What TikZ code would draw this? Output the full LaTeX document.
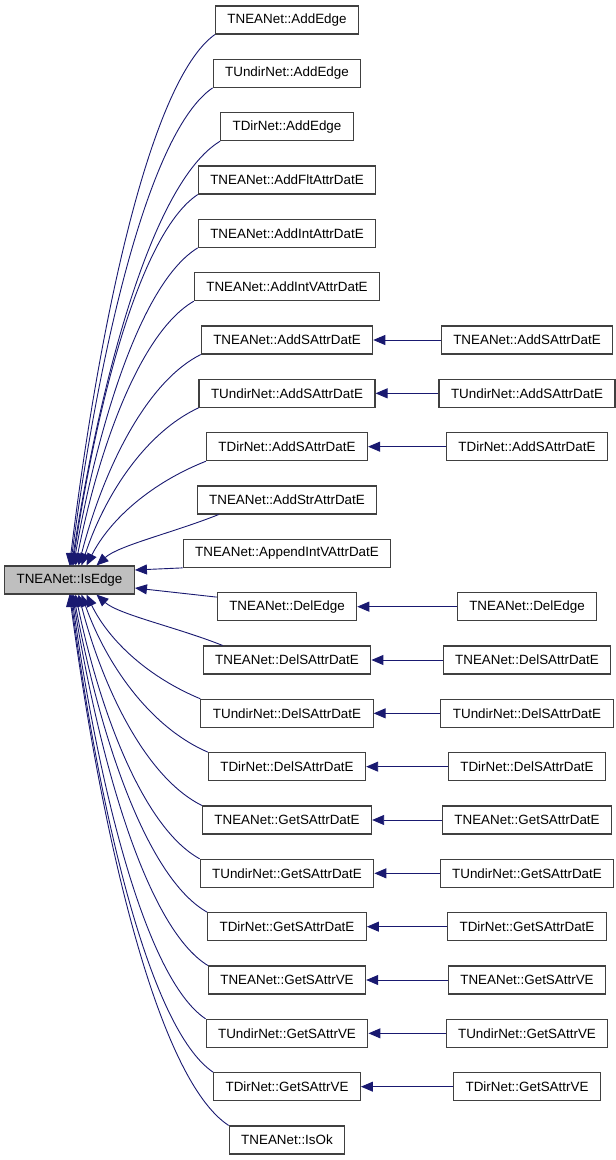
\documentclass[tikz,border=0pt]{standalone}
\usepackage{fontspec}
\setmainfont{Liberation Sans}
\usetikzlibrary{arrows.meta,calc}
\definecolor{edgec}{HTML}{191970}
\definecolor{boxc}{HTML}{404040}
\definecolor{rootgray}{HTML}{BFBFBF}
\begin{document}
\begin{tikzpicture}[x=1pt,y=1pt,
  box/.style={draw=boxc,line width=1.1pt,fill=white,minimum height=28pt,inner xsep=12pt,inner ysep=0pt,font=\fontsize{13.4}{15}\selectfont},
  rootbox/.style={box,fill=rootgray},
  edge/.style={draw=edgec,line width=0.9pt,-{Triangle[length=12pt,width=10pt]}}]
\useasboundingbox (0,0) rectangle (616,-1160);
\node[rootbox] (root) at (69.5,-580) {TNEANet::IsEdge};
\foreach \i/\t in {0/TNEANet::AddEdge,1/TUndirNet::AddEdge,2/TDirNet::AddEdge,3/TNEANet::AddFltAttrDatE,4/TNEANet::AddIntAttrDatE,5/TNEANet::AddIntVAttrDatE,6/TNEANet::AddSAttrDatE,7/TUndirNet::AddSAttrDatE,8/TDirNet::AddSAttrDatE,9/TNEANet::AddStrAttrDatE,10/TNEANet::AppendIntVAttrDatE,11/TNEANet::DelEdge,12/TNEANet::DelSAttrDatE,13/TUndirNet::DelSAttrDatE,14/TDirNet::DelSAttrDatE,15/TNEANet::GetSAttrDatE,16/TUndirNet::GetSAttrDatE,17/TDirNet::GetSAttrDatE,18/TNEANet::GetSAttrVE,19/TUndirNet::GetSAttrVE,20/TDirNet::GetSAttrVE,21/TNEANet::IsOk}
  \node[box] (m\i) at (287,{-20-53.333*\i}) {\t};
\foreach \i/\t in {6/TNEANet::AddSAttrDatE,7/TUndirNet::AddSAttrDatE,8/TDirNet::AddSAttrDatE,11/TNEANet::DelEdge,12/TNEANet::DelSAttrDatE,13/TUndirNet::DelSAttrDatE,14/TDirNet::DelSAttrDatE,15/TNEANet::GetSAttrDatE,16/TUndirNet::GetSAttrDatE,17/TDirNet::GetSAttrDatE,18/TNEANet::GetSAttrVE,19/TUndirNet::GetSAttrVE,20/TDirNet::GetSAttrVE}
  \node[box] (r\i) at (527,{-20-53.333*\i}) {\t};
% right-column calls
\foreach \i in {6,7,8,11,12,13,14,15,16,17,18,19,20}
  \draw[edge] (r\i.west) -- (m\i.east);
% upper callers
\foreach \i/\e in {0/0,1/1,2/2,3/3,4/4,5/6,6/9,7/12,8/17}
  \draw[edge] let \p1=(m\i.south west), \p2=([xshift=\e pt]root.north), \n1={\x1-\x2}, \n2={\y1-\y2} in
    (\p1) .. controls +({-0.45*\n1},{-0.06*\n2-15pt}) and +({0.2*\n1},{0.45*\n2}) .. (\p2);
\draw[edge] ([xshift=22pt]m9.south west) .. controls +(-45,-18) and +(22,20) .. ([xshift=27pt]root.north);
\draw[edge] (m10.south west) -- ([yshift=10pt]root.east);
\draw[edge] ([yshift=-5pt]m11.north west) -- ([yshift=-8pt]root.east);
\draw[edge] ([xshift=20pt]m12.north west) .. controls +(-45,18) and +(22,-20) .. ([xshift=27pt]root.south);
% lower callers
\foreach \i/\e in {13/17,14/12,15/9,16/6,17/4,18/3,19/2,20/1,21/0}
  \draw[edge] let \p1=(m\i.north west), \p2=([xshift=\e pt]root.south), \n1={\x1-\x2}, \n2={\y2-\y1} in
    (\p1) .. controls +({-0.45*\n1},{0.06*\n2+15pt}) and +({0.2*\n1},{-0.45*\n2}) .. (\p2);
\end{tikzpicture}
\end{document}
